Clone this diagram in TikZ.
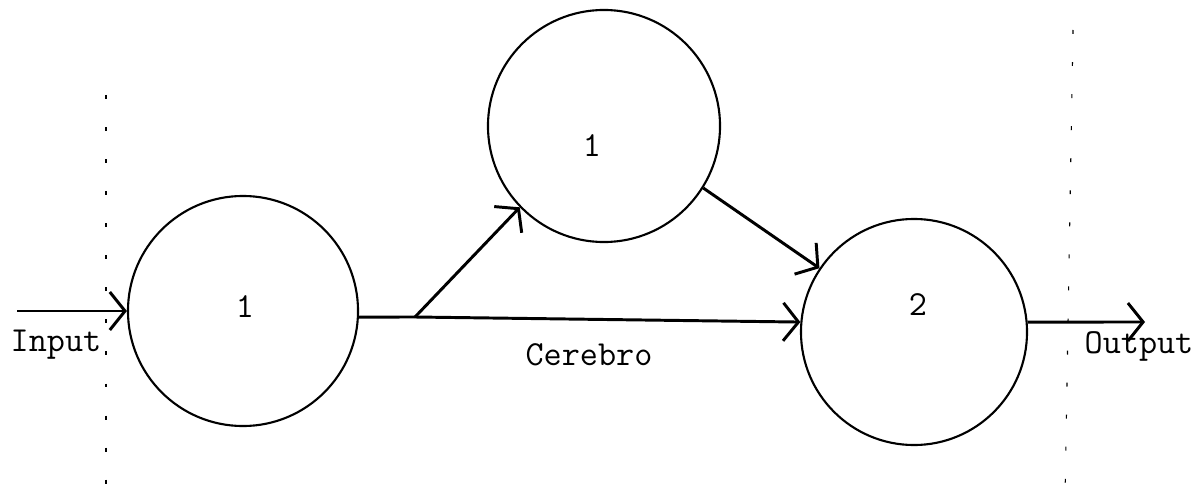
\documentclass[tikz,border=0pt]{standalone}
\usetikzlibrary{arrows.meta}

\tikzset{
  unit/.style={draw, circle, line width=1.5pt, minimum size=5.75cm, inner sep=0pt},
  lbl/.style={anchor=base, inner sep=0pt, font=\ttfamily\fontsize{25}{30}\selectfont},
  flow/.style={line width=2.1pt, -{Straight Barb[length=0.38cm, width=0.95cm, line width=2.1pt]}},
  wall/.style={line width=0.8pt, dash pattern=on 2.8pt off 20pt}
}

\begin{document}
\begin{tikzpicture}[x=0.025cm, y=-0.025cm]
\useasboundingbox (0,0) rectangle (1203,499);
% units
\node[unit] (c1) at (243,311) {};
\node[unit, minimum size=5.8cm] (c2) at (604,126) {};
\node[unit, minimum size=5.65cm] (c3) at (914,332) {};
\node[lbl] (n1) at (245,317) {1};
\node[lbl] (n2) at (592,156) {1};
\node[lbl] (n3) at (918,315) {2};
% borders
\coordinate (wl1) at (106,95);
\coordinate (wl2) at (106,499);
\coordinate (wr1) at (1073,30);
\coordinate (wr2) at (1065,499);
\draw[wall] (wl1) -- (wl2);
\draw[wall] (wr1) -- (wr2);
% connections
\coordinate (in) at (17,311);
\coordinate (out) at (1145,322);
\coordinate (br) at (415,317);
\draw[flow] (in) -- (c1.west);
\draw[line width=2.1pt] (c1.-3) -- (br);
\path[flow]
(br) edge (c3.175)
     edge (c2.224);
\path[flow]
(c2.-32) edge (c3.146);
\draw[flow] (c3.5) -- (out);
% texts
\node[lbl] (tin) at (56,351) {Input};
\node[lbl] (tmid) at (589,365) {Cerebro};
\node[lbl] (tout) at (1139,353) {Output};
\end{tikzpicture}
\end{document}
